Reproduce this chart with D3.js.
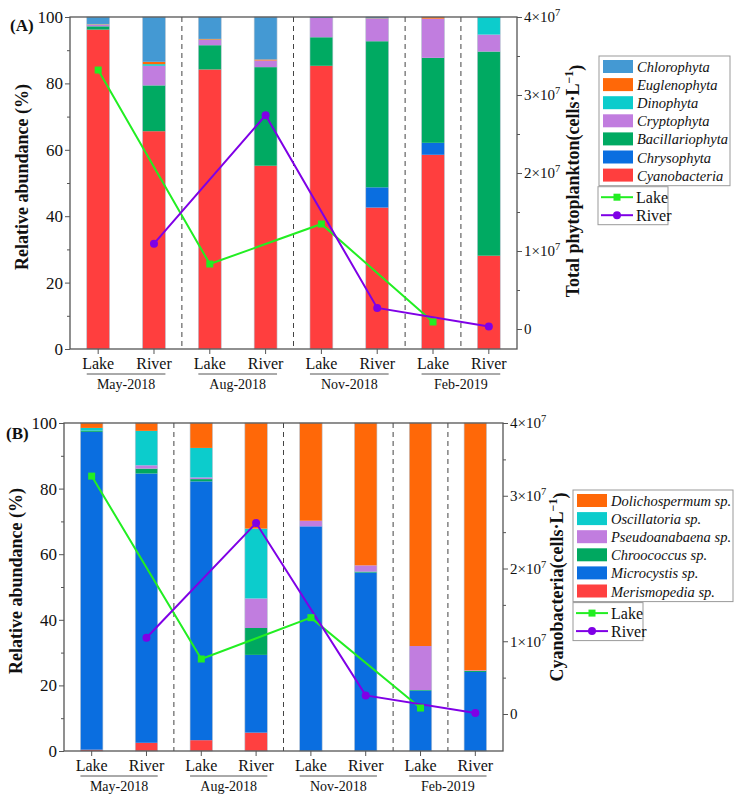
<!DOCTYPE html>
<html>
<head>
<meta charset="utf-8">
<script src="https://cdn.jsdelivr.net/npm/d3@7"></script>
<style>
  body { margin: 0; background: #fff; }
  svg text { font-family: "Liberation Serif", "Times New Roman", serif; fill: #111; }
</style>
</head>
<body>
<div id="chart"></div>
<script>
// sampling campaigns and sites
const groups = ["May-2018", "Aug-2018", "Nov-2018", "Feb-2019"];
const sites = ["Lake", "River"];

// (A) phytoplankton phyla, relative abundance (%), bottom -> top of stack
const phyla = ["Cyanobacteria", "Chrysophyta", "Bacillariophyta", "Cryptophyta", "Dinophyta", "Euglenophyta", "Chlorophyta"];
const phylaColors = ["#ff3e3e", "#0a6ee0", "#00aa62", "#c17ddf", "#0ccccc", "#ff6808", "#4499d3"];
// one array per phylum, 8 samples: May L, May R, Aug L, Aug R, Nov L, Nov R, Feb L, Feb R
const cyanobacteria   = [96.2, 65.6, 84.2, 55.2, 85.3, 42.6, 58.5, 28.1];
const chrysophyta     = [0,    0,    0,    0,    0,    6.1,  3.6,  0];
const bacillariophyta = [1.0,  13.8, 7.3,  29.7, 8.6,  44.0, 25.6, 61.5];
const cryptophyta     = [0.5,  5.9,  1.6,  2.0,  5.8,  6.8,  11.8, 5.1];
const dinophyta       = [0.1,  0.5,  0.1,  0,    0,    0,    0,    5.3];
const euglenophyta    = [0.1,  0.7,  0.2,  0.3,  0,    0.1,  0.5,  0];
const chlorophyta     = [2.1,  13.5, 6.6,  12.8, 0.3,  0.4,  0,    0];
// total phytoplankton (cells/L)
const phytoLake  = [3.32e7, 0.833e7, 1.346e7, 0.09e7];
const phytoRiver = [1.094e7, 2.74e7, 0.27e7, 0.033e7];

// (B) cyanobacteria genera, relative abundance (%), bottom -> top of stack
const genera = ["Merismopedia sp.", "Microcystis sp.", "Chroococcus sp.", "Pseudoanabaena sp.", "Oscillatoria sp.", "Dolichospermum sp."];
const generaColors = ["#ff4040", "#0a6ee0", "#00a860", "#c17ddf", "#0ccccc", "#ff6808"];
const merismopedia   = [0.4,  2.5,  3.3,  5.6,  0,    0,    0,    0];
const microcystis    = [96.9, 82.1, 78.9, 23.7, 68.5, 54.4, 18.4, 24.1];
const chroococcus    = [0.4,  1.5,  0.7,  8.2,  0,    0.3,  0.2,  0.3];
const pseudoanabaena = [0,    1.0,  0.5,  9.0,  1.7,  1.9,  13.4, 0.2];
const oscillatoria   = [0.8,  10.5, 9.0,  21.3, 0,    0,    0,    0];
const dolichospermum = [1.5,  2.4,  7.6,  32.2, 29.8, 43.4, 68.0, 75.4];
// total cyanobacteria (cells/L)
const cyanoLake  = [3.27e7, 0.756e7, 1.324e7, 0.082e7];
const cyanoRiver = [1.049e7, 2.625e7, 0.256e7, 0.014e7];

const yTicks = [0, 20, 40, 60, 80, 100];
const y2Ticks = [0, 1e7, 2e7, 3e7, 4e7];

const samples = groups.flatMap(g => sites.map(s => g + "|" + s));

const svg = d3.select("#chart").append("svg").attr("width", 737).attr("height", 799);

function drawPanel(o) {
  const rows = samples.map((id, i) => {
    const r = {id};
    o.keys.forEach((k, j) => r[k] = o.series[j][i]);
    return r;
  });
  const stacked = d3.stack().keys(o.keys)(rows);
  const g = svg.append("g");

  const x = d3.scaleBand().domain(samples).range([o.L, o.R]).paddingInner(0.59).paddingOuter(0.3);
  const y = d3.scaleLinear().domain([0, 100]).range([o.B, o.T]);
  const y2 = d3.scaleLinear().domain([0, 4e7]).range([o.y2zero, o.T]);
  const cx = d => x(d) + x.bandwidth() / 2;

  // bars
  stacked.forEach((s, j) => {
    g.selectAll(null).data(s).enter().append("rect")
      .attr("x", d => x(d.data.id))
      .attr("width", x.bandwidth())
      .attr("y", d => y(d[1]))
      .attr("height", d => Math.max(0, y(d[0]) - y(d[1])))
      .attr("fill", o.colors[j]);
  });
  // faint bar outline
  g.selectAll(null).data(samples).enter().append("rect")
    .attr("x", d => x(d)).attr("width", x.bandwidth())
    .attr("y", o.T).attr("height", o.B - o.T)
    .attr("fill", "none").attr("stroke", "#b8c4d0").attr("stroke-width", 0.6);

  // dashed separators
  const sepAfter = [1, 3, 5, 6];
  g.selectAll(null).data(sepAfter).enter().append("line")
    .attr("x1", i => (cx(samples[i]) + cx(samples[i + 1])) / 2)
    .attr("x2", i => (cx(samples[i]) + cx(samples[i + 1])) / 2)
    .attr("y1", o.T).attr("y2", o.B)
    .attr("stroke", "#444").attr("stroke-width", 1).attr("stroke-dasharray", "5,4");

  // frame
  g.append("rect").attr("x", o.L).attr("y", o.T).attr("width", o.R - o.L).attr("height", o.B - o.T)
    .attr("fill", "none").attr("stroke", "#555").attr("stroke-width", 1.3);

  // left axis
  const ax = g.append("g").attr("transform", `translate(${o.L},0)`)
    .call(d3.axisLeft(y).tickValues(yTicks).tickSize(5).tickPadding(2));
  ax.select(".domain").remove();
  ax.selectAll("line").attr("stroke", "#555");
  ax.selectAll("text").attr("font-size", 17).attr("fill", "#111");
  g.append("g").attr("transform", `translate(${o.L},0)`)
    .call(d3.axisLeft(y).tickValues([10, 30, 50, 70, 90]).tickSize(3).tickFormat(""))
    .call(s => s.select(".domain").remove())
    .selectAll("line").attr("stroke", "#555");

  // right axis
  const ar = g.append("g").attr("transform", `translate(${o.R},0)`)
    .call(d3.axisRight(y2).tickValues(y2Ticks).tickSize(5).tickPadding(3).tickFormat(""));
  ar.select(".domain").remove();
  ar.selectAll("line").attr("stroke", "#555");
  g.append("g").attr("transform", `translate(${o.R},0)`)
    .call(d3.axisRight(y2).tickValues([0.5e7, 1.5e7, 2.5e7, 3.5e7]).tickSize(3).tickFormat(""))
    .call(s => s.select(".domain").remove())
    .selectAll("line").attr("stroke", "#555");
  y2Ticks.forEach(v => {
    const t = g.append("text").attr("x", o.R + 7).attr("y", y2(v)).attr("dy", "0.35em").attr("font-size", 15);
    if (v === 0) { t.text("0"); return; }
    t.append("tspan").text((v / 1e7) + "\u00d710");
    t.append("tspan").attr("dy", "-0.55em").attr("font-size", 10.5).text("7");
  });

  // bottom tick marks + site labels
  g.selectAll(null).data(samples).enter().append("line")
    .attr("x1", cx).attr("x2", cx).attr("y1", o.B).attr("y2", o.B + 5).attr("stroke", "#555");
  g.selectAll(null).data(samples).enter().append("text")
    .attr("x", cx).attr("y", o.B + 20).attr("text-anchor", "middle").attr("font-size", 16)
    .text(d => d.split("|")[1]);
  groups.forEach(gr => {
    const x0 = x(gr + "|Lake"), x1 = x(gr + "|River") + x.bandwidth();
    g.append("line").attr("x1", x0).attr("x2", x1).attr("y1", o.B + 25).attr("y2", o.B + 25)
      .attr("stroke", "#555").attr("stroke-width", 1);
    g.append("text").attr("x", (x0 + x1) / 2).attr("y", o.B + 39.5).attr("text-anchor", "middle")
      .attr("font-size", 14).text(gr);
  });

  // total abundance lines
  const lineGen = d3.line().x(d => d.x).y(d => y2(d.v));
  const lakePts = groups.map((gr, i) => ({x: cx(gr + "|Lake"), v: o.lake[i]}));
  const riverPts = groups.map((gr, i) => ({x: cx(gr + "|River"), v: o.river[i]}));
  g.append("path").datum(lakePts).attr("d", lineGen).attr("fill", "none").attr("stroke", "#22ee22").attr("stroke-width", 2);
  g.append("path").datum(riverPts).attr("d", lineGen).attr("fill", "none").attr("stroke", "#7f00e6").attr("stroke-width", 2);
  g.selectAll(null).data(lakePts).enter().append("rect")
    .attr("x", d => d.x - 3.5).attr("y", d => y2(d.v) - 3.5).attr("width", 7).attr("height", 7).attr("fill", "#22ee22");
  g.selectAll(null).data(riverPts).enter().append("circle")
    .attr("cx", d => d.x).attr("cy", d => y2(d.v)).attr("r", 4).attr("fill", "#7f00e6");

  // axis titles
  g.append("text").attr("transform", `translate(${o.L - 42},${(o.T + o.B) / 2 - 6}) rotate(-90)`)
    .attr("text-anchor", "middle").attr("font-size", 18).attr("font-weight", "bold").text("Relative abundance (%)");
  const rt = g.append("text").attr("transform", `translate(${o.R + o.rtOff},${o.rtY}) rotate(-90)`)
    .attr("text-anchor", "middle").attr("font-size", 18).attr("font-weight", "bold");
  rt.append("tspan").text(o.rightTitle + "(cells\u00b7L");
  rt.append("tspan").attr("dy", "-0.5em").attr("font-size", 12).text("\u22121");
  rt.append("tspan").attr("dy", "0.5em").text(")");

  // panel letter
  g.append("text").attr("x", o.tagX).attr("y", o.tagY).attr("font-size", 17).attr("font-weight", "bold").text(o.tag);

  // legend: stack keys, top -> bottom
  const lg = o.legend;
  g.append("rect").attr("x", lg.x).attr("y", lg.y).attr("width", lg.w).attr("height", o.keys.length * 18.1 + 3)
    .attr("fill", "#fff").attr("stroke", "#999").attr("stroke-width", 1);
  o.keys.slice().reverse().forEach((k, i) => {
    const yy = lg.y + 11 + i * 18.1;
    const c = o.colors[o.keys.length - 1 - i];
    g.append("rect").attr("x", lg.x + 4).attr("y", yy - 7).attr("width", 30).attr("height", 13).attr("fill", c);
    g.append("text").attr("x", lg.x + 38).attr("y", yy).attr("dy", "0.35em").attr("font-size", 14.5)
      .attr("font-style", "italic").text(k);
  });
  const ly = lg.y + o.keys.length * 18.1 + 4;
  g.append("rect").attr("x", lg.lx).attr("y", ly).attr("width", 70).attr("height", 38)
    .attr("fill", "#fff").attr("stroke", "#999").attr("stroke-width", 1);
  [["Lake", "#22ee22", "sq"], ["River", "#7f00e6", "ci"]].forEach(([name, col, m], i) => {
    const yy = ly + 10.5 + i * 18;
    g.append("line").attr("x1", lg.lx + 3).attr("x2", lg.lx + 35).attr("y1", yy).attr("y2", yy).attr("stroke", col).attr("stroke-width", 2);
    if (m === "sq") g.append("rect").attr("x", lg.lx + 15.5).attr("y", yy - 3.5).attr("width", 7).attr("height", 7).attr("fill", col);
    else g.append("circle").attr("cx", lg.lx + 19).attr("cy", yy).attr("r", 4).attr("fill", col);
    g.append("text").attr("x", lg.lx + 38).attr("y", yy).attr("dy", "0.35em").attr("font-size", 16).text(name);
  });
}

drawPanel({
  keys: phyla, colors: phylaColors,
  series: [cyanobacteria, chrysophyta, bacillariophyta, cryptophyta, dinophyta, euglenophyta, chlorophyta],
  lake: phytoLake, river: phytoRiver,
  L: 70, R: 517, T: 17, B: 349, y2zero: 329,
  rightTitle: "Total phytoplankton", rtOff: 62, rtY: 181,
  tag: "(A)", tagX: 10, tagY: 31,
  legend: {x: 599, y: 56, w: 131, lx: 598}
});

drawPanel({
  keys: genera, colors: generaColors,
  series: [merismopedia, microcystis, chroococcus, pseudoanabaena, oscillatoria, dolichospermum],
  lake: cyanoLake, river: cyanoRiver,
  L: 64, R: 503, T: 423, B: 751, y2zero: 714,
  rightTitle: "Cyanobacteria", rtOff: 60, rtY: 587,
  tag: "(B)", tagX: 6, tagY: 439,
  legend: {x: 573, y: 490, w: 160, lx: 573}
});
</script>
</body>
</html>
